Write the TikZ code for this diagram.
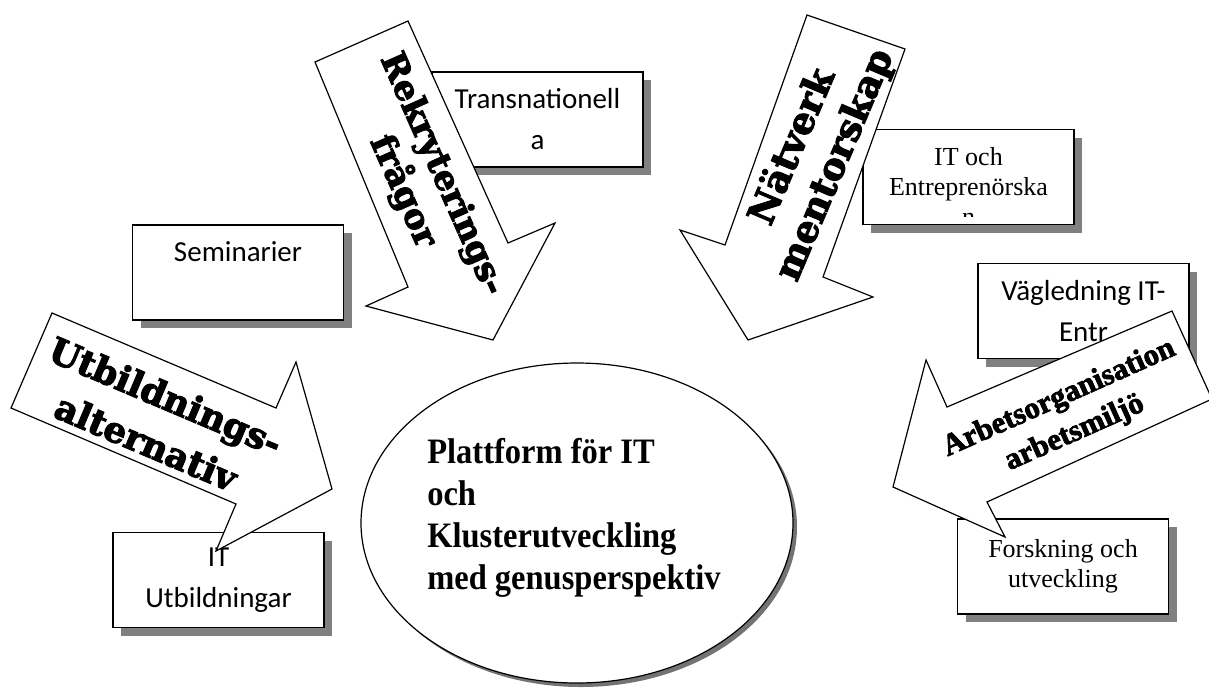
\documentclass[tikz,border=0pt]{standalone}
\usepackage{fontspec}
\setmainfont{Liberation Serif}
\newfontfamily\boxsans{Carlito}
\newfontfamily\widebold[BoldFeatures={FakeBold=3}]{DejaVu Serif}
\newfontfamily\timesbold[BoldFeatures={FakeBold=2.5}]{Liberation Serif}
\usetikzlibrary{shapes.geometric,shadows}

\begin{document}
\begin{tikzpicture}[x=1pt,y=-1pt,
    ruta/.style={draw,line width=1.2pt,fill=white,minimum width=211pt,minimum height=95pt,
      inner sep=0pt,align=center,
      drop shadow={shadow xshift=8pt,shadow yshift=-8pt,fill=black!50,opacity=1}},
    sansruta/.style={ruta,font=\boxsans\fontsize{29}{41}\selectfont},
    serifruta/.style={ruta,font=\fontsize{26}{30}\selectfont},
    hub/.style={ellipse,draw,line width=1.2pt,fill=white,minimum width=432pt,minimum height=320pt,
      inner sep=0pt,drop shadow={shadow xshift=4pt,shadow yshift=-4pt,fill=black!55,opacity=1}},
    pil/.style={draw,line width=1.2pt,fill=white,line join=miter},
    piltext/.style={align=center,inner sep=0pt}]
  \useasboundingbox (0,0) rectangle (1209,689);

  \node[sansruta] (transnationell) at (537.5,119.5) {Transnationell\\a};
  \node[sansruta] (seminarier) at (238,272.5) {Seminarier\\\mbox{}};
  \node[sansruta] (itutb) at (218.5,580) {IT\\Utbildningar};
  \node[serifruta] (itentr) at (968.5,177) {};
  \node[sansruta] (vagledning) at (1083.5,311) {Vägledning IT-\\Entr};
  \node[serifruta] (forskning) at (1063,566.5) {Forskning och\\utveckling};
  \begin{scope}
    \clip (itentr.north west) rectangle ([yshift=9pt]itentr.south east);
    \node[piltext,font=\fontsize{26}{30}\selectfont] (itentrtext) at (968.5,186) {IT och\\Entreprenörska\\n};
  \end{scope}

  \node[hub] (plattform) at (577,523) {};
  \node[align=left,inner sep=0pt,yscale=1.1,font=\bfseries\fontsize{32.5}{38}\selectfont] (plattformtext)
    at (574,518) {Plattform för IT\\och\\Klusterutveckling\\med genusperspektiv};

  \draw[pil] (315,62) -- (408,21) -- (508,243) -- (555,223) -- (493,340) -- (366,306) -- (408,287) -- cycle;
  \draw[pil] (807,15) -- (905,49) -- (823,277) -- (873,297) -- (748,340) -- (680,230) -- (725,245) -- cycle;
  \draw[pil] (52,313) -- (276,408) -- (296,362) -- (332,489) -- (216,551) -- (236,504) -- (11,408) -- cycle;
  \draw[pil] (1172,311) -- (1212,399) -- (987,502) -- (1005,537) -- (893,487) -- (926,360) -- (947,407) -- cycle;

  \node[piltext,rotate=-66,font=\widebold\bfseries\fontsize{34}{43}\selectfont] (rekrytering)
    at (422,183) {Rekryterings-\\frågor};
  \node[piltext,rotate=67,font=\widebold\bfseries\fontsize{37}{46}\selectfont] (natverk)
    at (814,156) {Nätverk\\mentorskap};
  \node[piltext,rotate=-23,font=\widebold\bfseries\fontsize{35.5}{50}\selectfont] (utbildning)
    at (156,419) {Utbildnings-\\alternativ};
  \node[piltext,rotate=24,font=\timesbold\bfseries\fontsize{30.5}{38}\selectfont] (arbete)
    at (1067,416) {Arbetsorganisation\\arbetsmiljö};
\end{tikzpicture}
\end{document}
